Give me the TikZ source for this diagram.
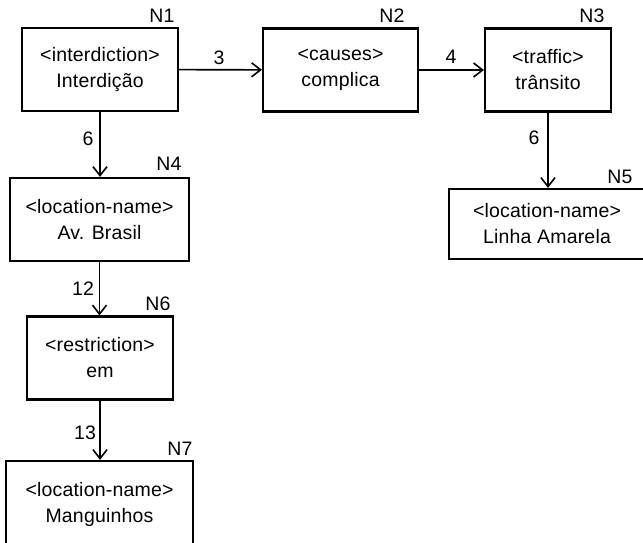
\documentclass[tikz,border=0pt]{standalone}
\usepackage{fontspec}
\setmainfont[LetterSpace=1]{Liberation Sans}
\usetikzlibrary{arrows.meta}
\begin{document}
\begin{tikzpicture}[x=1pt,y=-1pt,
  font=\fontsize{19.5}{26}\selectfont,
  concept/.style={draw,line width=2.2pt,align=center,inner sep=0pt,
    minimum width=#1,minimum height=83pt},
  concept/.default=156pt,
  rel/.style={line width=1.6pt,-{Straight Barb[length=9pt,width=14pt,line width=1.6pt]}},
  tag/.style={inner sep=0pt,anchor=center}]
\useasboundingbox (0,0) rectangle (643,543);
\clip (0,0) rectangle (643,543);

% concept boxes
\node[concept=156pt] (n1) at (100,69.5) {<interdiction>\\Interdição};
\node[concept=155pt] (n2) at (340.5,70) {<causes>\\complica};
\node[concept=126pt] (n3) at (548,70) {<traffic>\\trânsito};
\node[concept=179pt] (n4) at (99.5,219.5) {<location-name>\\Av. Brasil};
\node[concept=196pt,minimum height=70pt] (n5) at (547,224) {<location-name>\\Linha Amarela};
\node[concept=146pt] (n6) at (100,358) {<restriction>\\em};
\node[concept=187pt,minimum height=86pt] (n7) at (99.5,504) {<location-name>\\Manguinhos};

% node identifiers
\node[tag] (t1) at (162,16) {N1};
\node[tag] (t2) at (392,16) {N2};
\node[tag] (t3) at (592,16) {N3};
\node[tag] (t4) at (169,164) {N4};
\node[tag] (t5) at (620,177) {N5};
\node[tag] (t6) at (158,304) {N6};
\node[tag] (t7) at (180,449) {N7};

% relations
\draw[rel] (n1) -- (n2);
\draw[rel] (n2) -- (n3);
\draw[rel] (n1) -- (n1 |- n4.north);
\draw[rel] (n3) -- (n3 |- n5.north);
\draw[rel] (n4) -- (n4 |- n6.north);
\draw[rel] (n6) -- (n6 |- n7.north);

% relation labels
\node[tag] (l3) at (219,58) {3};
\node[tag] (l4) at (451,57) {4};
\node[tag] (l6a) at (88,139) {6};
\node[tag] (l6b) at (534,138) {6};
\node[tag] (l12) at (83,289) {12};
\node[tag] (l13) at (85,433) {13};
\end{tikzpicture}
\end{document}
